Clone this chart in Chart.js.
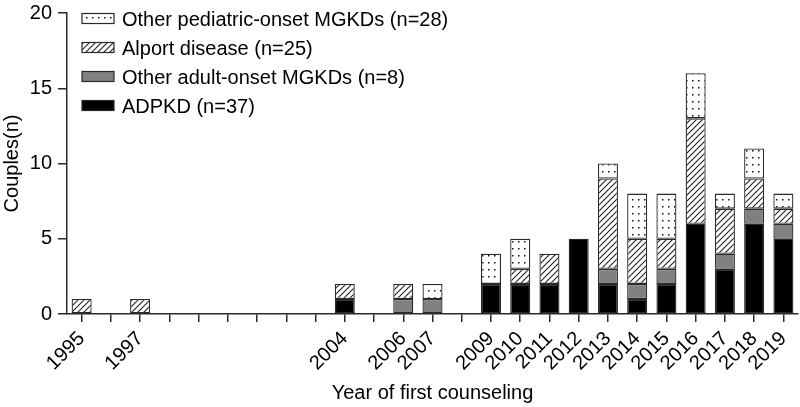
<!DOCTYPE html>
<html>
<head>
<meta charset="utf-8">
<script src="https://cdn.jsdelivr.net/npm/chart.js@4"></script>
<style>
  html, body { margin: 0; padding: 0; background: #fff; }
  #wrap { width: 800px; height: 407px; }
</style>
</head>
<body>
<div id="wrap"><canvas id="myChart"></canvas></div>
<script>
const years = ['1995','1996','1997','1998','1999','2000','2001','2002','2003','2004','2005','2006','2007',
               '2008','2009','2010','2011','2012','2013','2014','2015','2016','2017','2018','2019'];
const adpkd     = [0,0,0,0,0,0,0,0,0,1,0,0,0,0,2,2,2,5,2,1,2,6,3,6,5];
const adultMgkd = [0,0,0,0,0,0,0,0,0,0,0,1,1,0,0,0,0,0,1,1,1,0,1,1,1];
const alport    = [1,0,1,0,0,0,0,0,0,1,0,1,0,0,0,1,2,0,6,3,2,7,3,2,1];
const pediatric = [0,0,0,0,0,0,0,0,0,0,0,0,1,0,2,2,0,0,1,3,3,3,1,2,1];
const seriesNames = ['ADPKD (n=37)', 'Other adult-onset MGKDs (n=8)', 'Alport disease (n=25)', 'Other pediatric-onset MGKDs (n=28)'];
const yTicks = [0, 5, 10, 15, 20];

const FONT = '"Liberation Sans", Arial, Helvetica, sans-serif';
const edge = '#2a2a2a';

function hatch() {
  const c = document.createElement('canvas');
  c.width = 6; c.height = 6;
  const g = c.getContext('2d');
  g.fillStyle = '#fff'; g.fillRect(0, 0, 6, 6);
  g.strokeStyle = '#222'; g.lineWidth = 1.1;
  g.beginPath();
  g.moveTo(0, 6); g.lineTo(6, 0);
  g.moveTo(-1, 1); g.lineTo(1, -1);
  g.moveTo(5, 7); g.lineTo(7, 5);
  g.stroke();
  return g.createPattern(c, 'repeat');
}

function dots() {
  const c = document.createElement('canvas');
  c.width = 6; c.height = 7;
  const g = c.getContext('2d');
  g.fillStyle = '#fff'; g.fillRect(0, 0, 6, 7);
  g.fillStyle = '#111'; g.fillRect(2, 3, 1.5, 1.5);
  return g.createPattern(c, 'repeat');
}

const fills = ['#000000', '#808080', hatch(), dots()];
const seriesData = [adpkd, adultMgkd, alport, pediatric];
const totals = years.map((y, i) => seriesData.reduce((s, d) => s + d[i], 0));

const datasets = seriesData.map((d, k) => ({
  label: seriesNames[k],
  data: d.map(v => v || null),
  backgroundColor: fills[k],
  borderColor: edge,
  borderWidth: 1.3,
  borderSkipped: false,
  barPercentage: 0.685,
  categoryPercentage: 1.0
}));

// legend drawn inside the plot, top item = top of stack
const boxLegend = {
  id: 'boxLegend',
  afterDraw(chart) {
    const ctx = chart.ctx;
    const a = chart.chartArea;
    ctx.save();
    ctx.font = '20px ' + FONT;
    ctx.textBaseline = 'middle';
    for (let i = 0; i < 4; i++) {
      const k = 3 - i;
      const y = a.top + 5.5 + i * 29;
      const x = a.left + 15;
      ctx.fillStyle = fills[k];
      ctx.fillRect(x, y - 5, 32, 10);
      ctx.strokeStyle = edge;
      ctx.lineWidth = 1.2;
      ctx.strokeRect(x, y - 5, 32, 10);
      ctx.fillStyle = '#000';
      ctx.fillText(seriesNames[k], x + 40, y + 2);
    }
    ctx.restore();
  }
};

const config = {
  type: 'bar',
  data: { labels: years, datasets: datasets },
  options: {
    responsive: true,
    maintainAspectRatio: false,
    animation: false,
    layout: { padding: { top: 13, right: 2, left: 0, bottom: 0 } },
    plugins: {
      legend: { display: false },
      tooltip: { enabled: false }
    },
    scales: {
      x: {
        stacked: true,
        grid: { display: true, offset: false, drawOnChartArea: false, drawTicks: true, tickLength: 8, color: edge, lineWidth: 1.5 },
        border: { display: true, color: edge, width: 1.5 },
        ticks: {
          autoSkip: false, maxRotation: 45, minRotation: 45, padding: 5,
          color: '#000', font: { family: FONT, size: 20 },
          callback: function(val, i) { return totals[i] > 0 ? years[i] : ''; }
        },
        title: { display: true, text: 'Year of first counseling', color: '#000', font: { family: FONT, size: 20 }, padding: { top: 2, bottom: 2 } },
        afterFit: function(s) { s.height = 93; s.paddingLeft = 0; s.paddingRight = 0; }
      },
      y: {
        stacked: true,
        min: 0, max: 20,
        grid: { display: true, drawOnChartArea: false, drawTicks: true, tickLength: 9, color: edge, lineWidth: 1.5 },
        border: { display: true, color: edge, width: 1.5 },
        afterBuildTicks: function(s) { s.ticks = yTicks.map(v => ({ value: v })); },
        ticks: { padding: 6, color: '#000', font: { family: FONT, size: 20 } },
        title: { display: true, text: 'Couples(n)', color: '#000', font: { family: FONT, size: 20 }, padding: { top: 0, bottom: 2 } },
        afterFit: function(s) { s.width = 67; s.paddingTop = 0; s.paddingBottom = 0; }
      }
    }
  },
  plugins: [boxLegend]
};

const myChart = new Chart(document.getElementById('myChart'), config);
</script>
</body>
</html>
